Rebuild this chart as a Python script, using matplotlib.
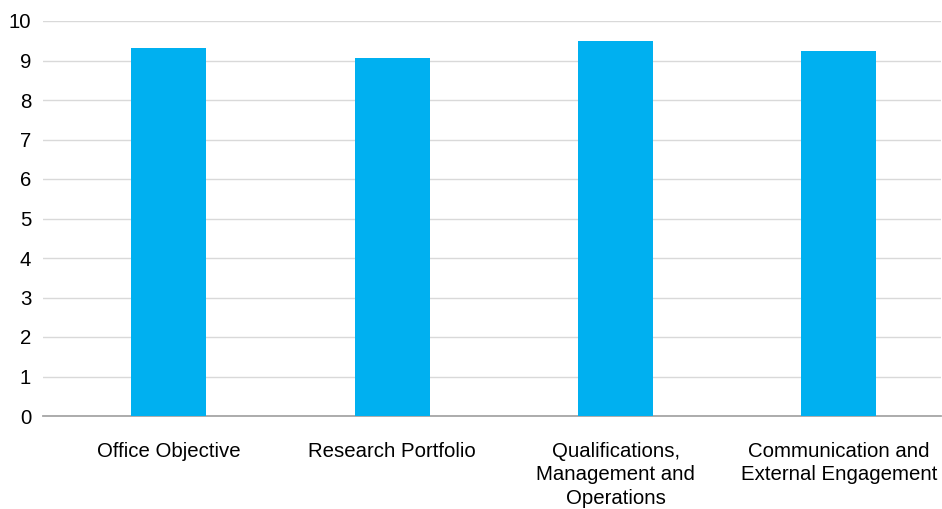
import matplotlib
matplotlib.use("Agg")
import matplotlib.pyplot as plt

categories = ["Office Objective", "Research Portfolio",
              "Qualifications,\nManagement and\nOperations",
              "Communication and\nExternal Engagement"]
scores = [9.32, 9.07, 9.49, 9.23]

plt.rcParams['font.family'] = ['Liberation Sans', 'DejaVu Sans']

fig = plt.figure(figsize=(9.42, 5.09), dpi=100)
ax = fig.add_axes([43 / 942, 1 - 416 / 509, 898 / 942, 395 / 509])

x = range(len(categories))
ax.bar(x, scores, width=0.336, color="#00B0F0", zorder=3)

ax.set_xlim(-0.564, 3.457)
ax.set_ylim(0, 10)
ax.set_yticks(range(0, 11))
ax.yaxis.grid(True, color="#d9d9d9", linewidth=1.0, zorder=0)
ax.set_axisbelow(True)

ax.set_xticks(list(x))
ax.set_xticklabels(categories, fontsize=14.7, linespacing=1.32)
ax.tick_params(axis="x", length=0, pad=18.5)
ax.tick_params(axis="y", length=0, pad=8.5, labelsize=14.7)

for side in ["top", "right", "left"]:
    ax.spines[side].set_visible(False)
ax.spines["bottom"].set_color("#a6a6a6")
ax.spines["bottom"].set_linewidth(1.3)

fig.savefig("out.png", dpi=100)
